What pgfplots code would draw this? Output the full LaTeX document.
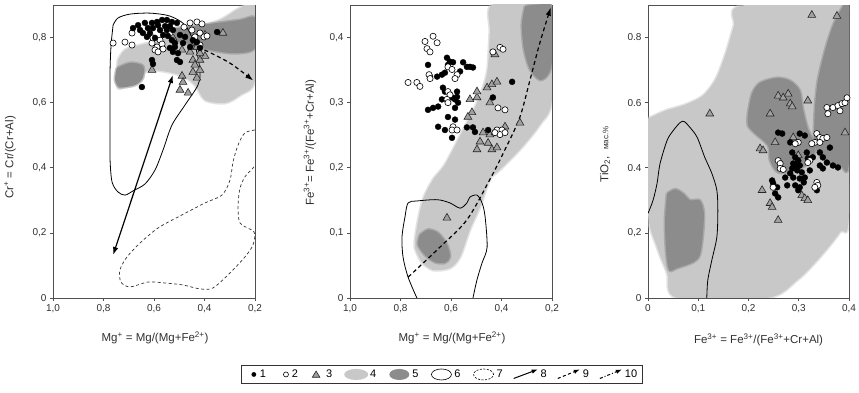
\documentclass[border=0pt]{standalone}
\usepackage{pgfplots}
\pgfplotsset{compat=1.18}
\usepackage{fontspec}
\setmainfont{Liberation Sans}
\usetikzlibrary{arrows.meta}

\definecolor{lightg}{HTML}{C8C8C8}
\definecolor{darkg}{HTML}{8C8C8C}
\definecolor{trif}{HTML}{A0A0A0}
\definecolor{axc}{HTML}{505050}
\definecolor{txc}{HTML}{303030}

\pgfplotsset{
  panel/.style={
    scale only axis, width=202pt, height=293pt, anchor=south west,
    axis line style={axc, line width=0.8pt},
    tick pos=left, tick align=outside, major tick length=3pt,
    tick style={axc, line width=0.6pt},
    ticklabel style={font=\fontsize{10}{12}\selectfont, text=txc},
    label style={font=\fontsize{11.5}{13}\selectfont, text=txc},
  },
  blk/.style={only marks, mark=*, mark size=3pt, mark options={fill=black, draw=black, line width=0.3pt}, forget plot},
  opn/.style={only marks, mark=*, mark size=3.1pt, mark options={fill=white, draw=black, line width=0.6pt}, forget plot},
  tri/.style={only marks, mark=triangle*, mark size=4.5pt, mark options={fill=trif, draw=black!85, line width=0.6pt}, forget plot},
  reg/.style={smooth, tension=0.5, forget plot, line width=3pt, line join=round, draw opacity=0.5},
  ctr/.style={black, line width=0.8pt, smooth, tension=0.5, forget plot, no marks},
  dctr/.style={black!80, line width=0.7pt, smooth, tension=0.5, dash pattern=on 3pt off 2.5pt, forget plot, no marks},
  arr/.style={black, line width=1.2pt, no marks, forget plot, >={Latex[length=8pt,width=5.5pt]}},
}
\newcommand{\lbox}[1]{\path[draw=none, fill=none] (0pt,-5pt) rectangle (#1,5pt);}

\begin{document}
\begin{tikzpicture}
\path[use as bounding box] (0,0) rectangle (859pt,393pt);

% ================= Panel 1 =================
\begin{axis}[panel, at={(53pt,95pt)},
  x dir=reverse, xmin=0.2, xmax=1, ymin=0, ymax=0.9,
  xtick={0.2,0.4,0.6,0.8,1}, xticklabels={{0,2},{0,4},{0,6},{0,8},{1,0}},
  ytick={0,0.2,0.4,0.6,0.8}, yticklabels={0,{0,2},{0,4},{0,6},{0,8}},
  xlabel={Mg\textsuperscript{+} = Mg/(Mg+Fe\textsuperscript{2+})},
  ylabel={Cr\textsuperscript{+} = Cr/(Cr+Al)},
  xlabel style={at={(axis description cs:0.505,-0.137)}, anchor=center},
  ylabel style={at={(axis description cs:-0.213,0.48)}, anchor=center},
]
\addplot[reg, fill=lightg, draw=lightg] coordinates {(0.743,0.731)(0.715,0.762)(0.655,0.777)(0.576,0.792)(0.457,0.823)(0.339,0.854)(0.259,0.891)(0.2,0.9)(0.2,0.670)(0.259,0.623)(0.319,0.599)(0.398,0.608)(0.438,0.654)(0.497,0.685)(0.616,0.700)(0.675,0.670)(0.743,0.645)(0.743,0.731)};
\addplot[reg, fill=darkg, draw=darkg] coordinates {(0.747,0.706)(0.695,0.722)(0.644,0.713)(0.644,0.676)(0.675,0.654)(0.735,0.648)(0.754,0.670)(0.747,0.706)};
\addplot[reg, fill=darkg, draw=darkg] coordinates {(0.517,0.829)(0.378,0.842)(0.259,0.854)(0.2,0.860)(0.2,0.768)(0.279,0.752)(0.378,0.762)(0.457,0.780)(0.517,0.792)(0.517,0.829)};
\addplot[ctr] coordinates {(0.762,0.838)(0.770,0.777)(0.774,0.700)(0.774,0.608)(0.774,0.516)(0.774,0.424)(0.766,0.356)(0.743,0.326)(0.715,0.316)(0.683,0.329)(0.636,0.350)(0.596,0.393)(0.564,0.455)(0.529,0.531)(0.477,0.593)(0.426,0.654)(0.418,0.700)(0.438,0.777)(0.477,0.838)(0.537,0.866)(0.616,0.875)(0.695,0.872)(0.743,0.860)(0.762,0.838)};
\addplot[dctr] coordinates {(0.2,0.516)(0.240,0.507)(0.267,0.470)(0.287,0.418)(0.299,0.362)(0.331,0.316)(0.398,0.292)(0.497,0.252)(0.584,0.215)(0.655,0.169)(0.707,0.126)(0.735,0.086)(0.731,0.049)(0.695,0.034)(0.624,0.049)(0.556,0.046)(0.485,0.040)(0.418,0.028)(0.366,0.031)(0.299,0.077)(0.240,0.126)(0.208,0.163)(0.204,0.203)(0.259,0.230)(0.267,0.286)(0.259,0.338)(0.240,0.372)(0.208,0.399)(0.2,0.408)};
\addplot[arr, <->] coordinates {(0.762,0.132)(0.525,0.685)};
\addplot[arr, ->, dash pattern=on 4pt off 3pt, smooth] coordinates {(0.40,0.762)(0.30,0.722)(0.207,0.668)};
\addplot[tri] coordinates {(0.608,0.700)(0.525,0.799)(0.489,0.762)(0.450,0.771)(0.430,0.771)(0.446,0.731)(0.418,0.731)(0.398,0.743)(0.489,0.682)(0.485,0.663)(0.446,0.694)(0.430,0.676)(0.497,0.639)(0.465,0.630)(0.418,0.700)(0.398,0.808)(0.327,0.814)(0.457,0.756)(0.418,0.752)(0.438,0.716)};
\addplot[opn] coordinates {(0.762,0.783)(0.715,0.786)(0.687,0.814)(0.687,0.777)(0.608,0.783)(0.588,0.771)(0.576,0.792)(0.568,0.780)(0.596,0.762)(0.584,0.756)(0.564,0.765)(0.604,0.799)(0.457,0.845)(0.430,0.848)(0.410,0.842)(0.450,0.823)(0.418,0.814)(0.402,0.802)(0.438,0.802)(0.481,0.832)(0.418,0.777)(0.390,0.805)};
\addplot[blk] coordinates {(0.683,0.829)(0.663,0.838)(0.636,0.845)(0.608,0.845)(0.588,0.848)(0.568,0.854)(0.549,0.854)(0.529,0.848)(0.509,0.845)(0.624,0.829)(0.604,0.829)(0.576,0.823)(0.549,0.823)(0.525,0.823)(0.628,0.802)(0.596,0.799)(0.529,0.792)(0.517,0.783)(0.537,0.768)(0.525,0.756)(0.505,0.752)(0.509,0.731)(0.497,0.725)(0.608,0.731)(0.604,0.719)(0.517,0.771)(0.485,0.783)(0.457,0.771)(0.446,0.792)(0.430,0.786)(0.418,0.768)(0.350,0.817)(0.648,0.648)(0.655,0.823)(0.644,0.814)(0.584,0.838)(0.556,0.835)(0.537,0.835)(0.616,0.814)(0.564,0.808)(0.545,0.805)(0.497,0.808)(0.477,0.802)};
\end{axis}

% ================= Panel 2 =================
\begin{axis}[panel, at={(350pt,95pt)},
  x dir=reverse, xmin=0.2, xmax=1, ymin=0, ymax=0.45,
  xtick={0.2,0.4,0.6,0.8,1}, xticklabels={{0,2},{0,4},{0,6},{0,8},{1,0}},
  ytick={0,0.1,0.2,0.3,0.4}, yticklabels={0,{0,1},{0,2},{0,3},{0,4}},
  xlabel={Mg\textsuperscript{+} = Mg/(Mg+Fe\textsuperscript{2+})},
  ylabel={Fe\textsuperscript{3+}= Fe\textsuperscript{3+}/(Fe\textsuperscript{3+}+Cr+Al)},
  xlabel style={at={(axis description cs:0.505,-0.137)}, anchor=center},
  ylabel style={at={(axis description cs:-0.198,0.53)}, anchor=center},
  legend columns=10,
  legend style={at={(0.453,-0.261)}, anchor=center, draw=black!80, line width=0.6pt, fill=white,
    font=\fontsize{11}{13}\selectfont, inner xsep=3pt, inner ysep=3pt,
    /tikz/every even column/.append style={column sep=8pt},
    nodes={inner xsep=2pt, inner ysep=1.5pt}},
]
\addplot[reg, fill=lightg, draw=lightg] coordinates {(0.715,0.054)(0.743,0.078)(0.735,0.109)(0.711,0.151)(0.671,0.182)(0.624,0.205)(0.552,0.258)(0.497,0.300)(0.457,0.346)(0.446,0.408)(0.434,0.451)(0.2,0.451)(0.2,0.305)(0.248,0.266)(0.327,0.228)(0.406,0.197)(0.446,0.182)(0.485,0.140)(0.525,0.105)(0.564,0.063)(0.604,0.046)(0.671,0.043)(0.715,0.054)};
\addplot[reg, fill=darkg, draw=darkg] coordinates {(0.307,0.448)(0.248,0.451)(0.2,0.446)(0.2,0.366)(0.216,0.343)(0.248,0.335)(0.287,0.351)(0.311,0.382)(0.319,0.420)(0.307,0.448)};
\addplot[reg, fill=darkg, draw=darkg] coordinates {(0.723,0.097)(0.691,0.105)(0.651,0.100)(0.616,0.082)(0.604,0.063)(0.624,0.054)(0.663,0.055)(0.703,0.066)(0.731,0.082)(0.723,0.097)};
\addplot[ctr] coordinates {(0.735,0)(0.770,0.032)(0.790,0.063)(0.794,0.094)(0.782,0.125)(0.770,0.146)(0.735,0.149)(0.655,0.151)(0.604,0.146)(0.564,0.138)(0.537,0.146)(0.525,0.155)(0.497,0.158)(0.477,0.146)(0.465,0.125)(0.457,0.078)(0.477,0.054)(0.497,0.028)(0.513,0)};
\addplot[arr, ->, dash pattern=on 4pt off 3pt, smooth] coordinates {(0.770,0.032)(0.644,0.078)(0.537,0.120)(0.446,0.182)(0.386,0.228)(0.327,0.278)(0.287,0.335)(0.248,0.392)(0.205,0.446)};
\addplot[tri] coordinates {(0.525,0.305)(0.517,0.285)(0.497,0.308)(0.497,0.317)(0.457,0.323)(0.438,0.328)(0.418,0.332)(0.446,0.300)(0.533,0.278)(0.473,0.254)(0.446,0.251)(0.426,0.254)(0.485,0.240)(0.453,0.238)(0.438,0.228)(0.497,0.228)(0.418,0.231)(0.327,0.269)(0.426,0.374)(0.386,0.263)(0.616,0.123)};
\addplot[blk] coordinates {(0.691,0.358)(0.683,0.340)(0.655,0.340)(0.636,0.343)(0.624,0.346)(0.616,0.369)(0.604,0.363)(0.612,0.358)(0.592,0.362)(0.552,0.362)(0.537,0.355)(0.525,0.355)(0.513,0.354)(0.564,0.348)(0.632,0.323)(0.624,0.317)(0.636,0.305)(0.596,0.308)(0.584,0.305)(0.576,0.309)(0.572,0.300)(0.584,0.292)(0.691,0.289)(0.671,0.292)(0.651,0.294)(0.612,0.278)(0.584,0.274)(0.651,0.263)(0.624,0.258)(0.596,0.246)(0.537,0.262)(0.513,0.262)(0.505,0.255)(0.453,0.258)(0.434,0.308)(0.358,0.332)(0.604,0.312)(0.576,0.317)};
\addplot[opn] coordinates {(0.703,0.394)(0.671,0.402)(0.655,0.392)(0.695,0.383)(0.683,0.378)(0.770,0.331)(0.735,0.331)(0.723,0.325)(0.687,0.343)(0.683,0.337)(0.612,0.355)(0.596,0.351)(0.576,0.343)(0.584,0.337)(0.612,0.317)(0.604,0.312)(0.616,0.305)(0.612,0.300)(0.592,0.263)(0.596,0.258)(0.576,0.258)(0.434,0.378)(0.406,0.385)(0.394,0.382)(0.414,0.292)(0.386,0.289)(0.418,0.258)(0.398,0.258)(0.406,0.251)(0.386,0.254)(0.426,0.254)};
% legend
\addlegendimage{legend image code/.code={\lbox{14pt} \fill[black, draw=none] (10pt,0pt) circle (2.4pt);}}
\addlegendentry{1}
\addlegendimage{legend image code/.code={\lbox{14pt} \draw[black, fill=white, line width=0.6pt] (10pt,0pt) circle (2.5pt);}}
\addlegendentry{2}
\addlegendimage{legend image code/.code={\lbox{16pt} \draw[black!85, fill=trif, line width=0.6pt] (8pt,3.4pt) -- (11.8pt,-2.8pt) -- (4.2pt,-2.8pt) -- cycle;}}
\addlegendentry{3}
\addlegendimage{legend image code/.code={\lbox{26pt} \fill[lightg, draw=none] (14pt,0pt) ellipse (12pt and 5.5pt);}}
\addlegendentry{4}
\addlegendimage{legend image code/.code={\lbox{24pt} \fill[darkg, draw=none] (13pt,0pt) ellipse (10pt and 5.5pt);}}
\addlegendentry{5}
\addlegendimage{legend image code/.code={\lbox{24pt} \draw[black, fill=none, line width=0.6pt] (13pt,0pt) ellipse (10pt and 5.5pt);}}
\addlegendentry{6}
\addlegendimage{legend image code/.code={\lbox{24pt} \draw[black, fill=none, line width=0.6pt, dash pattern=on 2pt off 1.5pt] (13pt,0pt) ellipse (10pt and 5.5pt);}}
\addlegendentry{7}
\addlegendimage{legend image code/.code={\lbox{26pt} \draw[black, fill=none, line width=1pt, -{Latex[length=6pt,width=4.5pt]}] (1pt,-4pt) -- (25pt,5pt);}}
\addlegendentry{8}
\addlegendimage{legend image code/.code={\lbox{24pt} \draw[black, fill=none, line width=1pt, dash pattern=on 3pt off 2.5pt, -{Latex[length=6pt,width=4.5pt]}] (1pt,-4pt) -- (23pt,5pt);}}
\addlegendentry{9}
\addlegendimage{legend image code/.code={\lbox{24pt} \draw[black, fill=none, line width=1pt, dash pattern=on 3pt off 2pt on 1pt off 2pt, -{Latex[length=6pt,width=4.5pt]}] (1pt,-4pt) -- (23pt,5pt);}}
\addlegendentry{10}
\end{axis}

% ================= Panel 3 =================
\begin{axis}[panel, at={(648pt,95pt)}, width=201pt,
  xmin=0, xmax=0.4, ymin=0, ymax=0.9,
  xtick={0,0.1,0.2,0.3,0.4}, xticklabels={0,{0,1},{0,2},{0,3},{0,4}},
  ytick={0,0.2,0.4,0.6,0.8}, yticklabels={0,{0,2},{0.4},{0.6},{0.8}},
  xlabel={Fe\textsuperscript{3+} = Fe\textsuperscript{3+}/(Fe\textsuperscript{3+}+Cr+Al)},
  ylabel={TiO\textsubscript{2},~~{\fontsize{8}{9}\selectfont мас.\%}},
  xlabel style={at={(axis description cs:0.55,-0.143)}, anchor=center},
  ylabel style={at={(axis description cs:-0.214,0.49)}, anchor=center},
]
\addplot[reg, fill=lightg, draw=lightg] coordinates {(0,0.551)(0.034,0.575)(0.074,0.594)(0.109,0.621)(0.135,0.673)(0.155,0.753)(0.171,0.836)(0.185,0.897)(0.4,0.897)(0.4,0.260)(0.382,0.202)(0.342,0.125)(0.297,0.055)(0.237,0)(0.058,0)(0.038,0.077)(0.018,0.156)(0,0.260)(0,0.551)};
\addplot[reg, fill=darkg, draw=darkg] coordinates {(0.038,0.321)(0.054,0.334)(0.070,0.321)(0.084,0.300)(0.103,0.300)(0.111,0.263)(0.109,0.193)(0.103,0.132)(0.090,0.110)(0.058,0.092)(0.042,0.086)(0.036,0.147)(0.034,0.239)(0.038,0.321)};
\addplot[reg, fill=darkg, draw=darkg] coordinates {(0.199,0.566)(0.207,0.627)(0.223,0.661)(0.257,0.676)(0.283,0.667)(0.302,0.637)(0.308,0.582)(0.318,0.520)(0.332,0.468)(0.326,0.422)(0.293,0.392)(0.259,0.386)(0.243,0.422)(0.239,0.468)(0.213,0.505)(0.199,0.530)(0.199,0.566)};
\addplot[reg, fill=darkg, draw=darkg] coordinates {(0.388,0.897)(0.4,0.897)(0.4,0.422)(0.382,0.407)(0.352,0.422)(0.332,0.468)(0.332,0.575)(0.338,0.667)(0.352,0.759)(0.368,0.836)(0.388,0.897)};
\addplot[ctr] coordinates {(0,0.260)(0.010,0.300)(0.018,0.352)(0.024,0.413)(0.038,0.484)(0.050,0.514)(0.064,0.539)(0.072,0.542)(0.084,0.523)(0.098,0.493)(0.113,0.432)(0.127,0.383)(0.137,0.331)(0.139,0.269)(0.137,0.187)(0.127,0.116)(0.119,0.055)(0.117,0)};
\addplot[tri] coordinates {(0.326,0.869)(0.376,0.866)(0.123,0.566)(0.259,0.621)(0.269,0.615)(0.279,0.627)(0.283,0.597)(0.287,0.588)(0.318,0.606)(0.243,0.566)(0.392,0.508)(0.289,0.493)(0.253,0.478)(0.223,0.459)(0.229,0.453)(0.299,0.438)(0.227,0.331)(0.243,0.291)(0.247,0.279)(0.259,0.239)(0.306,0.315)(0.312,0.306)(0.318,0.300)};
\addplot[blk] coordinates {(0.259,0.508)(0.267,0.505)(0.283,0.478)(0.302,0.505)(0.312,0.499)(0.287,0.447)(0.293,0.432)(0.299,0.422)(0.289,0.413)(0.302,0.407)(0.287,0.398)(0.297,0.392)(0.306,0.386)(0.289,0.370)(0.302,0.367)(0.312,0.370)(0.293,0.346)(0.302,0.340)(0.299,0.331)(0.283,0.383)(0.273,0.370)(0.342,0.447)(0.348,0.432)(0.356,0.416)(0.342,0.407)(0.348,0.398)(0.362,0.462)(0.368,0.407)(0.378,0.401)(0.247,0.361)(0.249,0.352)(0.257,0.340)(0.253,0.321)(0.259,0.309)(0.336,0.331)(0.318,0.429)(0.328,0.432)(0.316,0.447)(0.293,0.407)(0.310,0.355)(0.277,0.346)(0.322,0.392)};
\addplot[opn] coordinates {(0.356,0.585)(0.368,0.585)(0.378,0.591)(0.386,0.597)(0.392,0.600)(0.396,0.615)(0.382,0.575)(0.358,0.566)(0.336,0.505)(0.342,0.493)(0.348,0.490)(0.356,0.493)(0.332,0.478)(0.342,0.478)(0.326,0.474)(0.299,0.478)(0.293,0.474)(0.322,0.422)(0.318,0.416)(0.259,0.422)(0.263,0.413)(0.263,0.398)(0.269,0.395)(0.249,0.340)(0.336,0.355)(0.338,0.346)(0.332,0.340)};
\end{axis}
\end{tikzpicture}
\end{document}
